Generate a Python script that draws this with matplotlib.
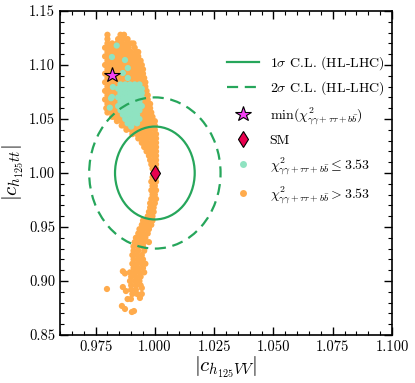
import matplotlib
matplotlib.use('Agg')
import matplotlib.pyplot as plt
from matplotlib.patches import Ellipse
from matplotlib.lines import Line2D
from matplotlib.ticker import MultipleLocator

plt.rcParams['font.family'] = 'serif'
plt.rcParams['font.serif'] = ['cmr10']
plt.rcParams['mathtext.fontset'] = 'cm'
plt.rcParams['axes.formatter.use_mathtext'] = True

# scan points with chi2 > 3.53, one row per y value
orange_rows = [
    (1.128, [0.9800, 0.9855, 0.9870]),
    (1.124, [0.9800, 0.9845, 0.9865, 0.9885]),
    (1.120, [0.980, 0.982, 0.984, 0.986, 0.988, 0.990, 0.991]),
    (1.116, [0.979, 0.981, 0.983, 0.985, 0.987, 0.989, 0.9915]),
    (1.112, [0.980, 0.982, 0.984, 0.986, 0.988, 0.990, 0.992, 0.993]),
    (1.108, [0.979, 0.981, 0.983, 0.985, 0.987, 0.989, 0.991, 0.993]),
    (1.104, [0.980, 0.982, 0.984, 0.986, 0.988, 0.990, 0.992, 0.994]),
    (1.100, [0.979, 0.981, 0.983, 0.985, 0.987, 0.989, 0.991, 0.993, 0.9945]),
    (1.096, [0.980, 0.982, 0.984, 0.986, 0.988, 0.990, 0.992, 0.994, 0.995]),
    (1.092, [0.979, 0.981, 0.983, 0.985, 0.987, 0.989, 0.991, 0.993, 0.995]),
    (1.088, [0.980, 0.982, 0.984, 0.986, 0.988, 0.990, 0.992, 0.994, 0.9955]),
    (1.084, [0.979, 0.981, 0.983, 0.985, 0.987, 0.989, 0.991, 0.993, 0.995, 0.996]),
    (1.080, [0.980, 0.982, 0.984, 0.986, 0.988, 0.990, 0.992, 0.994, 0.996]),
    (1.076, [0.979, 0.981, 0.983, 0.985, 0.987, 0.989, 0.991, 0.993, 0.995, 0.9965]),
    (1.072, [0.980, 0.982, 0.984, 0.986, 0.988, 0.990, 0.992, 0.994, 0.996, 0.997]),
    (1.068, [0.979, 0.981, 0.983, 0.985, 0.987, 0.989, 0.991, 0.993, 0.995, 0.997]),
    (1.064, [0.980, 0.982, 0.984, 0.986, 0.988, 0.990, 0.992, 0.994, 0.996, 0.998]),
    (1.060, [0.9795, 0.981, 0.983, 0.985, 0.987, 0.989, 0.991, 0.993, 0.995, 0.997, 0.998]),
    (1.056, [0.980, 0.982, 0.984, 0.986, 0.988, 0.990, 0.992, 0.994, 0.996, 0.998, 0.9985]),
    (1.052, [0.982, 0.983, 0.985, 0.987, 0.989, 0.991, 0.993, 0.995, 0.997, 0.999]),
    (1.048, [0.984, 0.986, 0.988, 0.990, 0.992, 0.994, 0.996, 0.998, 1.000]),
    (1.044, [0.986, 0.987, 0.989, 0.991, 0.993, 0.995, 0.997, 0.999, 1.000]),
    (1.040, [0.988, 0.990, 0.992, 0.994, 0.996, 0.998, 1.000]),
    (1.036, [0.9905, 0.9925, 0.9945, 0.9965, 0.9985, 1.0005]),
    (1.032, [0.993, 0.995, 0.997, 0.999, 1.0005]),
    (1.028, [0.9945, 0.9965, 0.9985, 1.0005]),
    (1.024, [0.9955, 0.9975, 0.9995, 1.0005]),
    (1.020, [0.9965, 0.9985, 1.0005]),
    (1.016, [0.9975, 0.9995, 1.0005]),
    (1.012, [0.998, 1.000, 1.0005]),
    (1.008, [0.9985, 1.0005]),
    (1.004, [0.999, 1.0005]),
    (0.996, [0.999, 1.0005]),
    (0.992, [0.9985, 1.0005]),
    (0.988, [0.999, 1.000]),
    (0.984, [0.9985, 1.0005]),
    (0.980, [0.999, 1.000]),
    (0.976, [0.9985, 1.0005]),
    (0.972, [0.998, 1.000]),
    (0.968, [0.998, 0.9995]),
    (0.964, [0.9975, 0.9995]),
    (0.960, [0.997, 0.999]),
    (0.956, [0.995, 0.997, 0.999]),
    (0.952, [0.9945, 0.9965, 0.9985]),
    (0.948, [0.9935, 0.9955, 0.9975]),
    (0.944, [0.993, 0.995, 0.997]),
    (0.940, [0.992, 0.994, 0.996]),
    (0.936, [0.9915, 0.9935, 0.9955, 0.9975]),
    (0.932, [0.991, 0.993, 0.995]),
    (0.928, [0.991, 0.993, 0.9955]),
    (0.924, [0.9905, 0.9925, 0.9945]),
    (0.920, [0.991, 0.993, 0.995]),
    (0.916, [0.9905, 0.9925, 0.9945, 0.996]),
    (0.912, [0.991, 0.993, 0.995]),
    (0.908, [0.9895, 0.9915, 0.9935, 0.9955]),
    (0.904, [0.990, 0.992, 0.994]),
    (0.900, [0.9895, 0.9915, 0.9935]),
    (0.896, [0.990, 0.992, 0.994]),
    (0.892, [0.990, 0.992]),
    (0.888, [0.9905, 0.9925, 0.9945]),
]
orange_extra_x = [0.9798, 0.9865, 0.9874, 0.9865, 0.9878, 0.9899, 0.9937,
                  0.9861, 0.9874, 0.9903, 0.9912, 0.9885, 0.9945]
orange_extra_y = [0.8926, 0.9090, 0.9070, 0.8944, 0.8907, 0.8833, 0.8843,
                  0.8769, 0.8741, 0.8713, 0.8722, 0.8833, 0.8935]

# scan points with chi2 <= 3.53
teal_rows = [
    (1.082, [0.9855, 0.9875, 0.9895, 0.9915, 0.9935]),
    (1.078, [0.9845, 0.9865, 0.9885, 0.9905, 0.9925, 0.9945]),
    (1.074, [0.9855, 0.9875, 0.9895, 0.9915, 0.9935, 0.9945]),
    (1.070, [0.9845, 0.9865, 0.9885, 0.9905, 0.9925, 0.9945]),
    (1.066, [0.9855, 0.9875, 0.9895, 0.9915, 0.9935]),
    (1.062, [0.9845, 0.9865, 0.9885, 0.9905, 0.9925, 0.9945]),
    (1.058, [0.9855, 0.9875, 0.9895, 0.9915, 0.9935]),
    (1.054, [0.9865, 0.9885, 0.9905, 0.9925]),
    (1.050, [0.9875, 0.9895, 0.9915, 0.9935]),
    (1.046, [0.9885, 0.9905, 0.9925]),
    (1.043, [0.990]),
]
teal_extra_x = [0.9839, 0.9819, 0.9874, 0.9886, 0.9865, 0.9886, 0.9823,
                0.9819, 0.9815, 0.9810]
teal_extra_y = [1.1180, 1.1074, 1.1046, 1.0972, 1.0926, 1.0880, 1.0796,
                1.0704, 1.0692, 1.0605]

best_fit = (0.9819, 1.0907)
sm_point = (1.0, 1.0)

# HL-LHC ellipses: (half width in VV, half height in tt)
sigma1 = (0.0168, 0.043)
sigma2 = (0.0277, 0.070)


def flatten(rows, ex, ey):
    xs, ys = [], []
    for y, row in rows:
        for x in row:
            xs.append(x)
            ys.append(y)
    return xs + ex, ys + ey


ox, oy = flatten(orange_rows, orange_extra_x, orange_extra_y)
tx, ty = flatten(teal_rows, teal_extra_x, teal_extra_y)

orange = '#ffab4c'
teal = '#8fe3c1'
green = '#26a65b'
star_c = '#f542f5'
sm_c = '#e8004f'

fig = plt.figure(figsize=(4.15, 3.83), dpi=100)
ax = fig.add_axes([0.1446, 0.1253, 0.80, 0.846])

ax.scatter(ox, oy, s=20, color=orange, edgecolors='none', zorder=2)
ax.scatter(tx, ty, s=20, color=teal, edgecolors='none', zorder=3)

ax.add_patch(Ellipse(sm_point, 2 * sigma1[0], 2 * sigma1[1], fill=False,
                     edgecolor=green, lw=1.6, zorder=4))
ax.add_patch(Ellipse(sm_point, 2 * sigma2[0], 2 * sigma2[1], fill=False,
                     edgecolor=green, lw=1.6, ls=(0, (5, 3)), zorder=4))

ax.plot(*best_fit, marker='*', ms=11.5, color=star_c, mec='black', mew=0.8,
        ls='none', zorder=6)
ax.plot(*sm_point, marker='d', ms=8, color=sm_c, mec='black', mew=0.8,
        ls='none', zorder=6)

ax.set_xlim(0.96, 1.10)
ax.set_ylim(0.85, 1.15)
ax.xaxis.set_major_locator(MultipleLocator(0.025))
ax.xaxis.set_minor_locator(MultipleLocator(0.005))
ax.yaxis.set_major_locator(MultipleLocator(0.05))
ax.yaxis.set_minor_locator(MultipleLocator(0.01))
ax.xaxis.set_major_formatter(plt.FormatStrFormatter('%.3f'))
ax.yaxis.set_major_formatter(plt.FormatStrFormatter('%.2f'))
ax.tick_params(which='both', direction='in', top=True, right=True,
               labelsize=10.5, color='black')
ax.tick_params(which='major', length=6, width=1)
ax.tick_params(which='minor', length=3, width=0.8)
for sp in ax.spines.values():
    sp.set_linewidth(1.2)

ax.set_xlabel(r'$|c_{h_{125}VV}|$', fontsize=15, labelpad=1)
ax.set_ylabel(r'$|c_{h_{125}tt}|$', fontsize=15, labelpad=2)

chi = r'\chi^2_{\gamma\gamma+\tau\tau+b\bar{b}}'
handles = [
    Line2D([], [], color=green, lw=1.6),
    Line2D([], [], color=green, lw=1.6, ls=(0, (5, 3))),
    Line2D([], [], marker='*', ms=11.5, color=star_c, mec='black', mew=0.8, ls='none'),
    Line2D([], [], marker='d', ms=8, color=sm_c, mec='black', mew=0.8, ls='none'),
    Line2D([], [], marker='o', ms=5, color=teal, mec='none', ls='none'),
    Line2D([], [], marker='o', ms=5, color=orange, mec='none', ls='none'),
]
labels = [r'$1\sigma$ C.L. (HL-LHC)', r'$2\sigma$ C.L. (HL-LHC)',
          r'$\min(' + chi + ')$', 'SM',
          r'$' + chi + r' \leq 3.53$', r'$' + chi + r' > 3.53$']
ax.legend(handles, labels, loc='upper right', bbox_to_anchor=(1.015, 0.905),
          frameon=False, fontsize=10, handlelength=2.3, labelspacing=0.55,
          handletextpad=0.8)

fig.savefig('out.png', dpi=100)
